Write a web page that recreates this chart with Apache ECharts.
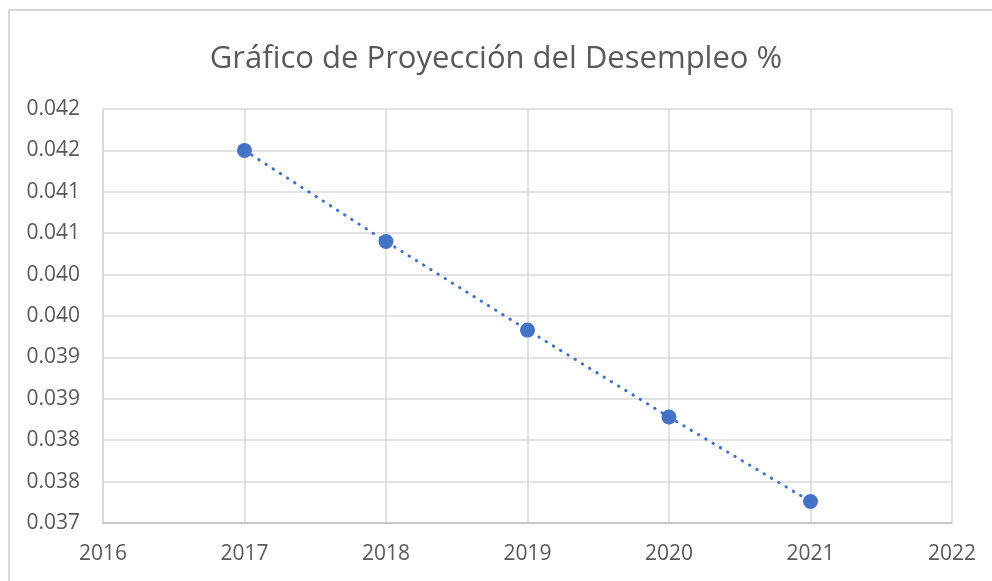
<!DOCTYPE html>
<html>
<head>
<meta charset="utf-8">
<script src="https://cdn.jsdelivr.net/npm/echarts@6/dist/echarts.min.js"></script>
<style>
  html, body { margin: 0; padding: 0; background: #fff; }
  #chart { width: 992px; height: 581px; }
</style>
</head>
<body>
<div id="chart"></div>
<script>
// data
var years = [2017, 2018, 2019, 2020, 2021];
var desempleo = [0.0415, 0.0404, 0.03933, 0.03828, 0.03726];
var yTickLabels = ['0.037', '0.038', '0.038', '0.039', '0.039', '0.040',
                   '0.040', '0.041', '0.041', '0.042', '0.042'];
var yMin = 0.037, yMax = 0.042, yStep = 0.0005;

var gris = '#595959';
var font = 'Open Sans';

var option = {
    backgroundColor: '#fff',
    animation: false,
    title: {
        text: 'Gráfico de Proyección del Desempleo %',
        left: 'center',
        top: 39,
        textStyle: { color: gris, fontSize: 31, fontWeight: 'normal', fontFamily: font }
    },
    graphic: [{
        type: 'rect',
        shape: { x: 9, y: 10, width: 1100, height: 700 },
        style: { fill: 'none', stroke: '#d9d9d9', lineWidth: 2 },
        silent: true
    }],
    grid: { left: 103, right: 40, top: 109, bottom: 58 },
    xAxis: {
        type: 'value',
        min: 2016, max: 2022, interval: 1,
        axisLine: { show: true, lineStyle: { color: '#bfbfbf', width: 1.5 } },
        axisTick: { show: false },
        splitLine: { show: true, lineStyle: { color: '#d9d9d9', width: 1.5 } },
        axisLabel: {
            color: gris, fontSize: 21, fontFamily: font, margin: 21,
            formatter: function (v) { return String(v); }
        }
    },
    yAxis: {
        type: 'value',
        min: yMin, max: yMax, interval: yStep,
        axisLine: { show: true, lineStyle: { color: '#d9d9d9', width: 1.5 } },
        axisTick: { show: false },
        splitLine: { show: true, lineStyle: { color: '#d9d9d9', width: 1.5 } },
        axisLabel: {
            color: gris, fontSize: 21, fontFamily: font, margin: 23,
            formatter: function (v) {
                return yTickLabels[Math.round((v - yMin) / yStep)];
            }
        }
    },
    series: [{
        type: 'line',
        data: years.map(function (y, i) { return [y, desempleo[i]]; }),
        symbol: 'circle',
        symbolSize: 15,
        itemStyle: { color: '#4472c4' },
        lineStyle: { color: '#4472c4', width: 3, type: [0.5, 8], cap: 'round' }
    }]
};

var myChart = echarts.init(document.getElementById('chart'));
myChart.setOption(option);
</script>
</body>
</html>
